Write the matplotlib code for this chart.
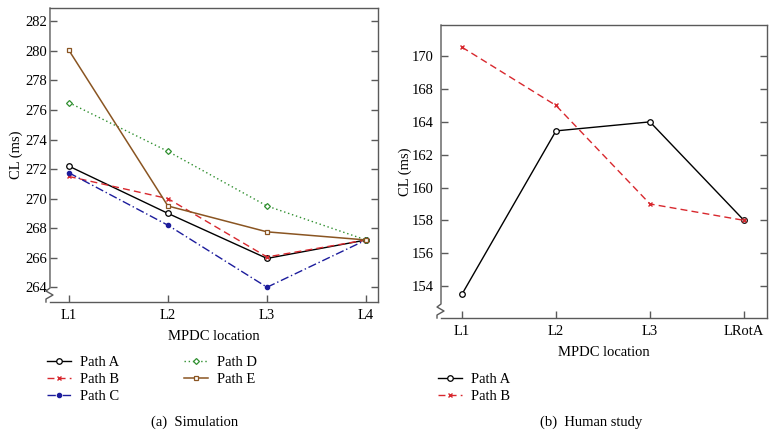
import matplotlib.pyplot as plt
import matplotlib as mpl

mpl.rcParams['font.family'] = ['Liberation Serif', 'DejaVu Serif']
mpl.rcParams['font.size'] = 10.5

# (a) Simulation
sim_locs = ['L1', 'L2', 'L3', 'L4']
sim_a = [272.2, 269.0, 265.95, 267.2]
sim_b = [271.5, 270.0, 266.05, 267.2]
sim_c = [271.75, 268.2, 264.0, 267.2]
sim_d = [276.5, 273.2, 269.5, 267.2]
sim_e = [280.05, 269.5, 267.75, 267.2]
sim_yticks = [264, 266, 268, 270, 272, 274, 276, 278, 280, 282]

# (b) Human study (tick labels as printed in the figure)
hum_locs = ['L1', 'L2', 'L3', 'LRotA']
hum_a = [153.5, 163.45, 164.0, 158.0]
hum_b = [168.55, 165.0, 159.0, 158.0]
hum_yticks = [154, 156, 158, 160, 162, 164, 166, 168]
hum_ylabels = ['154', '156', '158', '160', '162', '164', '168', '170']

RED = '#d8282e'
BLUE = '#1c1c9c'
GREEN = '#2f8f2f'
BROWN = '#8a5522'
SPINE = '#5a5a5a'
FS = 10.5


def style_axes(ax, locs, w_px, h_px, ypad, ylabpad):
    x = range(1, len(locs) + 1)
    ax.set_xticks(list(x))
    ax.set_xticklabels(locs)
    for s in ax.spines.values():
        s.set_color(SPINE)
        s.set_linewidth(1.0)
    ax.tick_params(axis='both', direction='in', length=5, color=SPINE,
                   width=1.0, labelsize=FS)
    ax.tick_params(axis='x', top=False, pad=5)
    ax.tick_params(axis='y', right=True, left=True, pad=ypad)
    ax.set_xlabel('MPDC location', fontsize=FS, labelpad=5.5)
    ax.set_ylabel('CL (ms)', fontsize=FS, labelpad=ylabpad)
    # axis break mark at bottom of the left spine
    ax.spines['left'].set_visible(False)
    dx = 1.0 / w_px
    dy = 1.0 / h_px
    bx = [0, 0, -4 * dx, 3 * dx, -4 * dx, -4 * dx]
    by = [1, 14 * dy, 11 * dy, 7 * dy, 3 * dy, 0]
    ax.plot(bx, by, color=SPINE, lw=1.0, transform=ax.transAxes,
            clip_on=False, zorder=5)


fig = plt.figure(figsize=(7.76, 4.36), dpi=100)

ax1 = fig.add_axes([0.0644, 0.3073, 0.4227, 0.6743])
x1 = range(1, len(sim_locs) + 1)
ax1.plot(x1, sim_a, color='black', lw=1.0, marker='o', ms=4, mfc='white',
         mec='black', mew=0.9, label='Path A')
ax1.plot(x1, sim_b, color=RED, lw=1.0, ls=(0, (5, 3)), marker='x', ms=3,
         mew=1.0, label='Path B')
ax1.plot(x1, sim_c, color=BLUE, lw=1.0, ls=(0, (6, 2, 1, 2)), marker='o',
         ms=3, label='Path C')
ax1.plot(x1, sim_d, color=GREEN, lw=1.0, ls=(0, (1, 2)), marker='D', ms=3,
         mfc='white', mec=GREEN, mew=0.9, label='Path D')
ax1.plot(x1, sim_e, color=BROWN, lw=1.1, marker='s', ms=3, mfc='white',
         mec=BROWN, mew=0.9, label='Path E')
ax1.set_xlim(0.81, 4.12)
ax1.set_ylim(263.0, 282.9)
ax1.set_yticks(sim_yticks)
style_axes(ax1, sim_locs, 328, 294, ypad=2, ylabpad=2)
fig.legend(*ax1.get_legend_handles_labels(), loc='upper left',
           bbox_to_anchor=(0.06, 0.183), ncol=2, frameon=False,
           fontsize=FS, handlelength=1.7, handletextpad=0.6,
           labelspacing=0.25, columnspacing=4.4, borderaxespad=0,
           borderpad=0)
fig.text(0.251, 0.032, '(a)  Simulation', ha='center', va='center',
         fontsize=FS)

ax2 = fig.add_axes([0.5683, 0.2706, 0.4201, 0.672])
x2 = range(1, len(hum_locs) + 1)
ax2.plot(x2, hum_a, color='black', lw=1.0, marker='o', ms=4, mfc='white',
         mec='black', mew=0.9, label='Path A')
ax2.plot(x2, hum_b, color=RED, lw=1.0, ls=(0, (5, 3)), marker='x', ms=3,
         mew=1.0, label='Path B')
ax2.set_xlim(0.777, 4.245)
ax2.set_ylim(152.05, 169.9)
ax2.set_yticks(hum_yticks)
ax2.set_yticklabels(hum_ylabels)
style_axes(ax2, hum_locs, 326, 293, ypad=5, ylabpad=0)
fig.legend(*ax2.get_legend_handles_labels(), loc='upper left',
           bbox_to_anchor=(0.564, 0.144), ncol=1, frameon=False,
           fontsize=FS, handlelength=1.7, handletextpad=0.6,
           labelspacing=0.25, borderaxespad=0, borderpad=0)
fig.text(0.762, 0.032, '(b)  Human study', ha='center', va='center',
         fontsize=FS)

fig.savefig('out.png', dpi=100)
